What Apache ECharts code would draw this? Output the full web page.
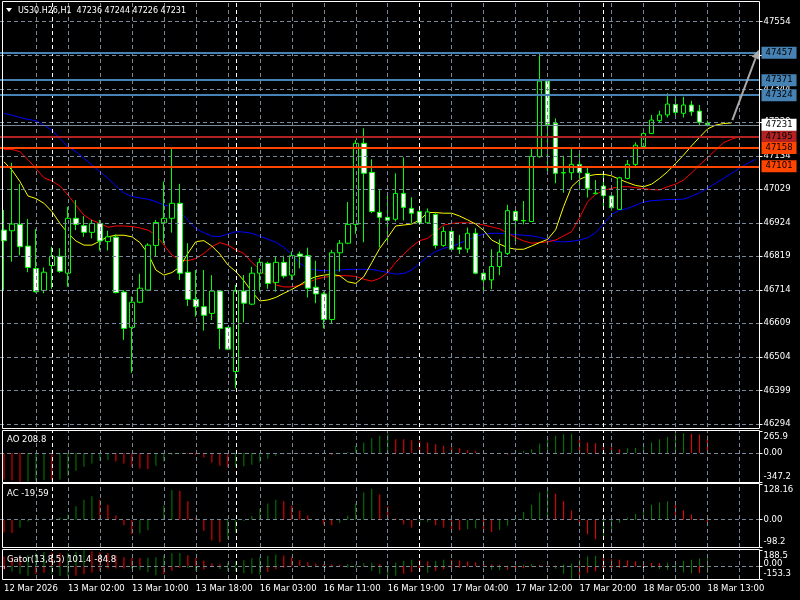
<!DOCTYPE html>
<html><head><meta charset="utf-8">
<script src="https://cdn.jsdelivr.net/npm/echarts@6/dist/echarts.min.js"></script>
<style>html,body{margin:0;padding:0;background:#000;}#c{width:800px;height:600px;}</style>
</head><body><div id="c"></div>
<script>
// ---------------- DATA ----------------
const symbolName = 'US30.H26,H1';
const dayHours = [['12 Mar',18,23],['13 Mar',0,22],['16 Mar',0,22],['17 Mar',0,22],['18 Mar',0,13]];
const tickLabels = ['12 Mar 2026','13 Mar 02:00','13 Mar 10:00','13 Mar 18:00','16 Mar 03:00','16 Mar 11:00','16 Mar 19:00','17 Mar 04:00','17 Mar 12:00','17 Mar 20:00','18 Mar 05:00','18 Mar 13:00'];
const opens  = [46901,46899,46919,46851,46781,46712,46790,46819,46766,46938,46915,46894,46922,46865,46879,46707,46596,46675,46713,46853,46924,46938,46985,46769,46684,46661,46640,46710,46596,46458,46710,46669,46766,46797,46737,46800,46760,46826,46821,46722,46701,46621,46830,46860,46919,47173,47082,46957,46941,46935,47016,46969,46959,46924,46950,46853,46897,46846,46842,46891,46766,46745,46787,46828,46959,46931,46928,47131,47368,47236,47081,47081,47107,47079,47015,47039,47008,46966,47063,47107,47163,47204,47244,47262,47295,47267,47293,47274,47236];
const highs  = [46964,47112,47046,46936,46904,46784,46849,46844,46974,46995,46945,46933,46933,46899,46888,46713,46693,46764,46860,46933,47053,47159,47046,46860,46776,46776,46760,46713,46598,46729,46760,46786,46813,46802,46818,46821,46834,46834,46846,46805,46708,46839,46870,46989,47183,47220,47123,47029,47016,47079,47129,47004,46964,46969,46954,46912,46901,46886,46909,46907,46776,46841,46872,46980,46972,46992,47157,47457,47371,47251,47134,47155,47152,47100,47058,47074,47016,47068,47121,47176,47220,47262,47275,47330,47314,47319,47306,47293,47244];
const lows   = [46713,46802,46822,46769,46705,46703,46717,46767,46724,46901,46880,46875,46837,46837,46703,46557,46454,46672,46710,46818,46860,46893,46745,46663,46630,46586,46619,46528,46525,46405,46612,46666,46708,46717,46708,46750,46745,46781,46690,46672,46593,46609,46771,46857,46889,46863,46954,46847,46865,46928,46931,46922,46917,46920,46843,46849,46839,46826,46830,46763,46703,46716,46760,46823,46865,46919,46926,47128,47079,47048,47018,47058,47027,47003,47014,46974,46962,46964,47060,47102,47163,47202,47238,47254,47262,47254,47259,47228,47226];
const closes = [46868,46920,46849,46784,46708,46769,46819,46772,46938,46919,46894,46922,46867,46880,46705,46593,46675,46719,46854,46925,46938,46985,46766,46684,46661,46634,46710,46593,46528,46710,46672,46766,46800,46734,46800,46757,46821,46819,46719,46701,46621,46830,46860,46919,47173,47079,46959,46941,46932,47016,46972,46954,46924,46958,46853,46897,46841,46841,46891,46766,46745,46787,46832,46962,46931,46930,47132,47368,47232,47079,47080,47107,47081,47032,47017,47009,46971,47065,47107,47167,47204,47246,47262,47296,47270,47293,47272,47239,47231];
// Alligator lines (already shifted forward as drawn)
const lips  = [47115,47089,47053,47008,47000,46985,46959,46922,46891,46867,46854,46854,46867,46880,46885,46885,46880,46862,46828,46776,46760,46768,46786,46828,46865,46868,46851,46826,46792,46771,46743,46708,46679,46682,46690,46703,46715,46729,46745,46755,46760,46762,46758,46739,46734,46755,46799,46844,46878,46914,46917,46920,46933,46956,46956,46954,46954,46945,46933,46920,46900,46870,46857,46846,46841,46841,46851,46862,46872,46902,46975,47037,47060,47071,47075,47076,47071,47060,47050,47041,47037,47045,47063,47084,47110,47136,47165,47192,47218,47230,47235,47237];
const teeth = [47154,47154,47147,47122,47094,47065,47055,47039,47011,46979,46948,46932,46922,46910,46914,46914,46912,46908,46901,46886,46854,46823,46807,46805,46812,46828,46849,46862,46854,46839,46828,46800,46778,46753,46729,46723,46723,46728,46736,46747,46753,46756,46758,46758,46756,46747,46741,46750,46768,46800,46826,46849,46868,46875,46896,46917,46922,46924,46924,46922,46917,46911,46905,46891,46878,46867,46860,46862,46864,46870,46883,46896,46940,46990,47013,47025,47032,47037,47037,47034,47031,47028,47027,47037,47045,47058,47080,47105,47128,47152,47175,47186,47194];
const jaw   = [47267,47261,47254,47248,47244,47230,47214,47188,47162,47147,47126,47105,47084,47063,47039,47018,47006,47002,46998,46990,46980,46974,46959,46932,46906,46893,46882,46881,46889,46896,46895,46891,46882,46873,46863,46847,46825,46797,46781,46776,46774,46774,46776,46778,46778,46778,46778,46773,46768,46763,46765,46776,46797,46818,46834,46844,46849,46860,46870,46880,46889,46891,46891,46889,46887,46885,46883,46878,46872,46865,46864,46866,46870,46877,46893,46921,46950,46963,46969,46979,46989,46993,46995,46997,46997,46998,47007,47018,47032,47048,47063,47079,47095,47110,47123];
const aoValues = [-318,-330,-347,-340,-332,-326,-330,-318,-272,-212,-164,-124,-92,-84,-100,-124,-164,-184,-190,-152,-100,-20,-6,-10,-22,-52,-112,-152,-172,-164,-158,-140,-112,-68,-36,-14,-4,-6,-3,2,-12,-24,-12,12,88,128,180,208,236,168,166,156,148,128,108,88,76,60,36,28,8,0,-4,-20,8,28,48,116,180,208,228,232,168,128,120,88,76,48,60,62,108,128,168,196,236,240,232,224,208.8];
const acValues = [-46,-48,-28,-7,2,4,3,8,19,48,72,84,72,54,15,-20,-52,-50,-38,0,51,107,104,66,7,-40,-75,-81,-70,-46,-5,13,37,58,72,66,51,33,15,1,-17,-20,-11,15,58,98,111,90,48,4,-17,-28,-17,-8,-20,-28,-34,-38,-34,-32,-40,-44,-37,-22,4,28,54,98,113,93,66,33,-22,-52,-70,-64,-40,-11,7,20,31,54,62,66,54,34,19,2,-19.59];
const gatorUp = [113,107,107,126,150,165,159,149,151,168,188.5,173,162,153,125,104,94,94,97,104,126,151,152,127,94,65,33,19,35,57,67,91,104,120,134,124,102,69,45,29,21,18,18,20,22,31,37,23,1,37,61,73,71,57,62,73,73,64,54,42,28,20,14,2,9,18,23,16,8,5,19,30,78,113,120,104,82,74,68,55,42,35,32,40,48,60,73,87,101.4];
const gatorDown = [-39,-65,-94,-114,-94,-80,-96,-117,-120,-112,-94,-78,-55,-30,-29,-29,-32,-46,-73,-110,-94,-55,-21,-23,-53,-40,-2,-36,-62,-68,-85,-92,-99,-71,-39,-20,-8,-1,-9,-8,-7,-6,-1,-19,-22,-8,-58,-94,-110,-114,-91,-71,-65,-81,-60,-37,-32,-21,-9,-2,-11,-43,-48,-45,-37,-26,-9,-1,-8,-32,-92,-153.3,-112,-81,-62,-51,-39,-23,-13,-7,-6,-17,-36,-47,-65,-78,-85,-84,-84.8];
const priceTicks = [47554,47449,47344,47239,47134,47029,46924,46819,46714,46609,46504,46399,46294];
const priceRange = [46284, 47619];
const levelValues = [47457,47371,47324,47195,47158,47101];
const bidPrice = 47231;
const aoScale = [-347.2, 0, 265.9];
const acScale = [-98.2, 0, 128.16];
const gatorScale = [-153.3, 0, 188.5];
const arrowFrom = [91.1, 47246];
const arrowTo = [94.4, 47466];

// ---------------- STYLE / LAYOUT ----------------
const FONT = 'DejaVu Sans';
const FS = 8.5;
const levelColors = ['#4682B4','#4682B4','#4682B4','#B22222','#FF4500','#FF4500'];
const GRID_COLOR = '#778899';
const DASH = [4,3];
const GREEN = '#008000', RED = '#FF0000';
const SLOTS = 95;

const categories = [];
dayHours.forEach(([d,h0,h1]) => { for (let h=h0; h<=h1; h++) categories.push(d+' '+String(h).padStart(2,'0')+':00'); });
const nBars = categories.length;
for (let i = nBars; i < SLOTS; i++) categories.push('future' + i);

const daySeps = [];
for (let i = 1; i < nBars; i++) if (categories[i].slice(0,6) !== categories[i-1].slice(0,6)) daySeps.push(i);
const vGrid = [];
for (let i = 4; i < SLOTS; i += 4) vGrid.push(i);

function vLines(){
  return [
    ...vGrid.map(k => ({xAxis:k, lineStyle:{color:GRID_COLOR, type:DASH, width:1}})),
    ...daySeps.map(k => ({xAxis:k, lineStyle:{color:'#ffffff', type:DASH, width:1}}))
  ];
}
function gridSeries(idx, extra){
  return {type:'line', xAxisIndex:idx, yAxisIndex:idx, data:[], silent:true, z:1, animation:false,
    markLine:{silent:true, symbol:'none', animation:false, label:{show:false}, data:[...extra, ...vLines()]}};
}
function histColors(arr, absMode){
  return arr.map((v,i) => {
    const cur = absMode ? Math.abs(v) : v;
    const prev = i>0 ? (absMode ? Math.abs(arr[i-1]) : arr[i-1]) : Infinity;
    return {value:v, itemStyle:{color: cur > prev ? GREEN : RED}};
  });
}
function fmtScale(v){ return v===0 ? '0.00' : String(v); }
const richStyles = {t:{padding:[11,0,0,0],color:'#fff',fontSize:FS,fontFamily:FONT},
            b:{padding:[0,0,11,0],color:'#fff',fontSize:FS,fontFamily:FONT},
            m:{color:'#fff',fontSize:FS,fontFamily:FONT},
            z:{padding:[0,0,4,0],color:'#fff',fontSize:FS,fontFamily:FONT}};
function scaleAxis(idx, sc, values, zeroStyle){
  const [mn,,mx] = sc;
  return {gridIndex:idx, type:'value', position:'right', min:mn, max:mx,
    splitLine:{show:false}, axisLine:{show:false},
    axisTick:{show:true, customValues:values, length:3, lineStyle:{color:'#fff'}},
    axisLabel:{customValues:values, margin:4, hideOverlap:false, showMinLabel:true, showMaxLabel:true,
      formatter:v => v===mx ? '{t|'+fmtScale(v)+'}' : (v===mn ? '{b|'+fmtScale(v)+'}' : '{'+zeroStyle+'|'+fmtScale(v)+'}'),
      rich:richStyles}};
}
function catAxis(idx, showLabels){
  const lblInt = (i) => i % 8 === 0 && i < nBars;
  return {gridIndex:idx, type:'category', data:categories, boundaryGap:true,
    axisLine:{show:false}, splitLine:{show:false},
    axisTick:{show:showLabels, alignWithLabel:true, interval:lblInt, length:3, lineStyle:{color:'#fff'}},
    axisLabel:{show:showLabels, interval:lblInt, align:'left', margin:5, color:'#fff', fontSize:FS, fontFamily:FONT, hideOverlap:false,
      formatter:(v,i) => tickLabels[i/8]}};
}

const chart = echarts.init(document.getElementById('c'));
const candleData = opens.map((o,i) => [o, closes[i], lows[i], highs[i]]);
const levelMarks = levelValues.map((v,i) => ({yAxis:v, lineStyle:{color:levelColors[i], width:2, type:'solid'},
  label:{show:true, position:'end', distance:2, formatter:String(v), color:'#000', backgroundColor:levelColors[i], padding:[2,4,1,4], fontSize:FS, fontFamily:FONT}}));
levelMarks.push({yAxis:bidPrice, lineStyle:{color:GRID_COLOR, width:1, type:'solid'},
  label:{show:true, position:'end', distance:2, formatter:String(bidPrice), color:'#000', backgroundColor:'#fff', padding:[2,4,1,4], fontSize:FS, fontFamily:FONT}});

const option = {
  backgroundColor:'#000', animation:false,
  grid:[
    {left:-0.5, top:1, width:760, height:426},
    {left:-0.5, top:431, width:760, height:51},
    {left:-0.5, top:484, width:760, height:63},
    {left:-0.5, top:550, width:760, height:29}
  ],
  xAxis:[catAxis(0,false), catAxis(1,false), catAxis(2,false), catAxis(3,true)],
  yAxis:[
    {gridIndex:0, type:'value', position:'right', min:priceRange[0], max:priceRange[1],
      splitLine:{show:false}, axisLine:{show:false},
      axisTick:{show:true, customValues:priceTicks, length:3, lineStyle:{color:'#fff'}},
      axisLabel:{customValues:priceTicks, margin:4, color:'#fff', fontSize:FS, fontFamily:FONT, hideOverlap:false, formatter:v => String(v)}},
    scaleAxis(1, aoScale, aoScale, 'm'), scaleAxis(2, acScale, acScale, 'm'),
    scaleAxis(3, gatorScale, [gatorScale[0], gatorScale[2]], 'm'),
    scaleAxis(3, gatorScale, [gatorScale[1]], 'z')
  ],
  series:[
    gridSeries(0, priceTicks.map(v => ({yAxis:v, lineStyle:{color:GRID_COLOR, type:DASH, width:1}}))),
    gridSeries(1, [{yAxis:0, lineStyle:{color:GRID_COLOR, type:DASH, width:1}}]),
    gridSeries(2, [{yAxis:0, lineStyle:{color:GRID_COLOR, type:DASH, width:1}}]),
    gridSeries(3, [{yAxis:0, lineStyle:{color:GRID_COLOR, type:DASH, width:1}}]),
    {type:'line', xAxisIndex:0, yAxisIndex:0, data:[], z:4, silent:true,
      markLine:{silent:true, symbol:'none', animation:false, data:levelMarks}},
    {type:'line', name:'jaw', xAxisIndex:0, yAxisIndex:0, data:jaw, symbol:'none', lineStyle:{color:'#0000FF', width:1}, z:2, silent:true},
    {type:'line', name:'teeth', xAxisIndex:0, yAxisIndex:0, data:teeth, symbol:'none', lineStyle:{color:'#FF0000', width:1}, z:2, silent:true},
    {type:'line', name:'lips', xAxisIndex:0, yAxisIndex:0, data:lips, symbol:'none', lineStyle:{color:'#FFFF00', width:1}, z:2, silent:true},
    {type:'candlestick', xAxisIndex:0, yAxisIndex:0, data:candleData, barWidth:5, z:3,
      itemStyle:{color:'#000000', color0:'#ffffff', borderColor:'#00ff00', borderColor0:'#00ff00', borderWidth:1}},
    {type:'bar', xAxisIndex:1, yAxisIndex:1, data:histColors(aoValues,false), barWidth:1, z:3},
    {type:'bar', xAxisIndex:2, yAxisIndex:2, data:histColors(acValues,false), barWidth:1, z:3},
    {type:'bar', xAxisIndex:3, yAxisIndex:3, data:histColors(gatorUp,true), barWidth:1, barGap:'-100%', z:3},
    {type:'bar', xAxisIndex:3, yAxisIndex:3, data:histColors(gatorDown,true), barWidth:1, barGap:'-100%', z:3}
  ]
};
chart.setOption(option);

// annotations & frames
function px(pt){
  const i = Math.floor(pt[0]), f = pt[0]-i;
  const a = chart.convertToPixel({gridIndex:0}, [i, pt[1]]);
  const b = chart.convertToPixel({gridIndex:0}, [i-1, pt[1]]);
  return [a[0] + (a[0]-b[0])*f, a[1]];
}
const p0 = px(arrowFrom), p1 = px(arrowTo);
const dx = p1[0]-p0[0], dy = p1[1]-p0[1], L = Math.hypot(dx,dy), ux = dx/L, uy = dy/L;
const headL = 9, headW = 4;
const base = [p1[0]-ux*headL, p1[1]-uy*headL];
const last = nBars-1;
const textStyle = (t,x,y,fs) => ({type:'text', x, y, z:101, style:{text:t, fill:'#fff', font:(fs||FS)+'px "'+FONT+'"', textVerticalAlign:'middle'}});
const frames = [[1.5,427],[430.5,52],[483.5,64],[549.5,30]].map(([y,h]) => ({type:'rect', z:100, silent:true,
  shape:{x:2.5, y:y, width:757, height:h}, style:{fill:null, stroke:'#fff', lineWidth:1}}));
chart.setOption({graphic:[
  ...frames,
  {type:'line', z:50, shape:{x1:p0[0], y1:p0[1], x2:base[0], y2:base[1]}, style:{stroke:'#A9A9A9', lineWidth:2}},
  {type:'polygon', z:50, shape:{points:[[p1[0],p1[1]],[base[0]-uy*headW, base[1]+ux*headW],[base[0]+uy*headW, base[1]-ux*headW]]}, style:{fill:'#A9A9A9'}},
  {type:'polygon', z:101, shape:{points:[[6,8],[12,8],[9,12]]}, style:{fill:'#fff'}},
  textStyle(symbolName+'  '+opens[last]+' '+highs[last]+' '+lows[last]+' '+closes[last], 18, 10.5, 8),
  textStyle('AO '+aoValues[last], 7, 440),
  textStyle('AC '+acValues[last], 7, 494),
  textStyle('Gator(13,8,5) '+gatorUp[last]+' '+gatorDown[last], 7, 560)
]});
</script></body></html>
